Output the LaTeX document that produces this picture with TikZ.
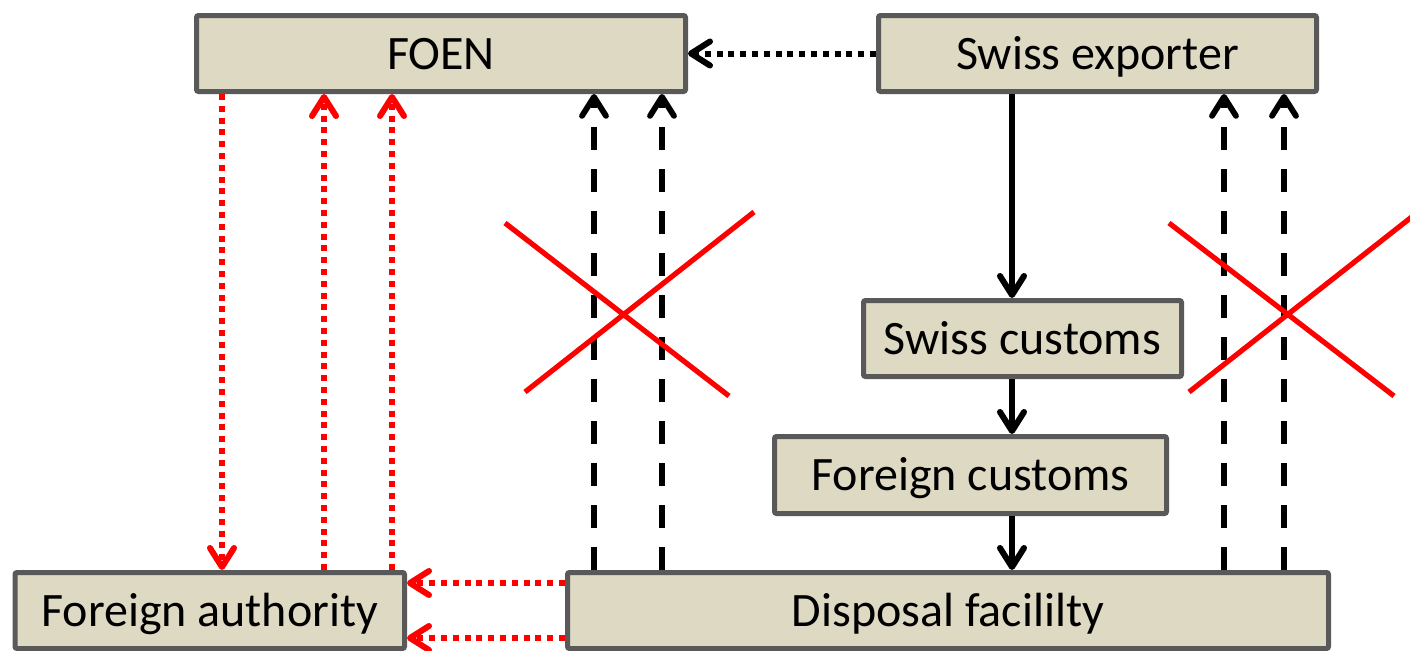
\documentclass[tikz,border=0pt]{standalone}
\usepackage{fontspec}
\setmainfont{Carlito}
\usetikzlibrary{arrows.meta}
\definecolor{boxfill}{HTML}{DDD9C3}
\definecolor{boxline}{HTML}{595959}
\begin{document}
\begin{tikzpicture}[x=0.5pt, y=-0.5pt,
    box/.style={draw=boxline, fill=boxfill, line width=2.5pt, rounded corners=1pt,
      inner sep=0pt, text height=15.5pt, text depth=0pt, font=\fontsize{24}{28}\selectfont},
    tip/.style={-{Straight Barb[length=9.5pt,width=12pt,line cap=round,line join=round]}},
    flow/.style={tip, line width=3pt},
    report/.style={tip, line width=2.9pt, dash pattern=on 11.5pt off 9.5pt},
    notice/.style={tip, line width=3pt, dash pattern=on 3pt off 2.9pt},
    cross/.style={red, line width=2.6pt}]
  \useasboundingbox (0,0) rectangle (1410,650);
  \draw
    (441,53.5) node[box, minimum width=244.5pt, minimum height=38pt] (foen){FOEN}
    (1097.5,53.5) node[box, minimum width=219pt, minimum height=38pt] (exporter){Swiss exporter}
    (1022.5,338.5) node[box, minimum width=159pt, minimum height=38pt] (swiss){Swiss customs}
    (970.5,475) node[box, minimum width=196pt, minimum height=38.5pt] (foreign){Foreign customs}
    (948,610.5) node[box, minimum width=380.5pt, minimum height=38pt] (disposal){Disposal facililty}
    (209.75,610.5) node[box, minimum width=194.75pt, minimum height=38pt] (authority){Foreign authority};
  \begin{scope}[red]
    \draw[notice] (foen.south -| 222,0) to (authority.north -| 222,0);
    \draw[notice] (authority.north -| 324,0) to (foen.south -| 324,0);
    \draw[notice] (authority.north -| 392,0) to (foen.south -| 392,0);
    \draw[notice] (disposal.west |- 0,583) to (authority.east |- 0,583);
    \draw[notice] (disposal.west |- 0,638) to (authority.east |- 0,638);
  \end{scope}
  \begin{scope}[black]
    \draw[notice] (exporter.west) to (foen.east);
    \draw[report] (disposal.north -| 594,0) to (foen.south -| 594,0);
    \draw[report] (disposal.north -| 662,0) to (foen.south -| 662,0);
    \draw[report] (disposal.north -| 1224,0) to (exporter.south -| 1224,0);
    \draw[report] (disposal.north -| 1284,0) to (exporter.south -| 1284,0);
    \draw[flow] (exporter.south -| 1012,0) to (swiss.north -| 1012,0);
    \draw[flow] (swiss.south -| 1012,0) to (foreign.north -| 1012,0);
    \draw[flow] (foreign.south -| 1012,0) to (disposal.north -| 1012,0);
  \end{scope}
  \draw[cross] (505,223) -- (729,396) (754,212) -- (525,392);
  \draw[cross] (1169,223) -- (1394,396) (1418,212) -- (1189,392);
\end{tikzpicture}
\end{document}
